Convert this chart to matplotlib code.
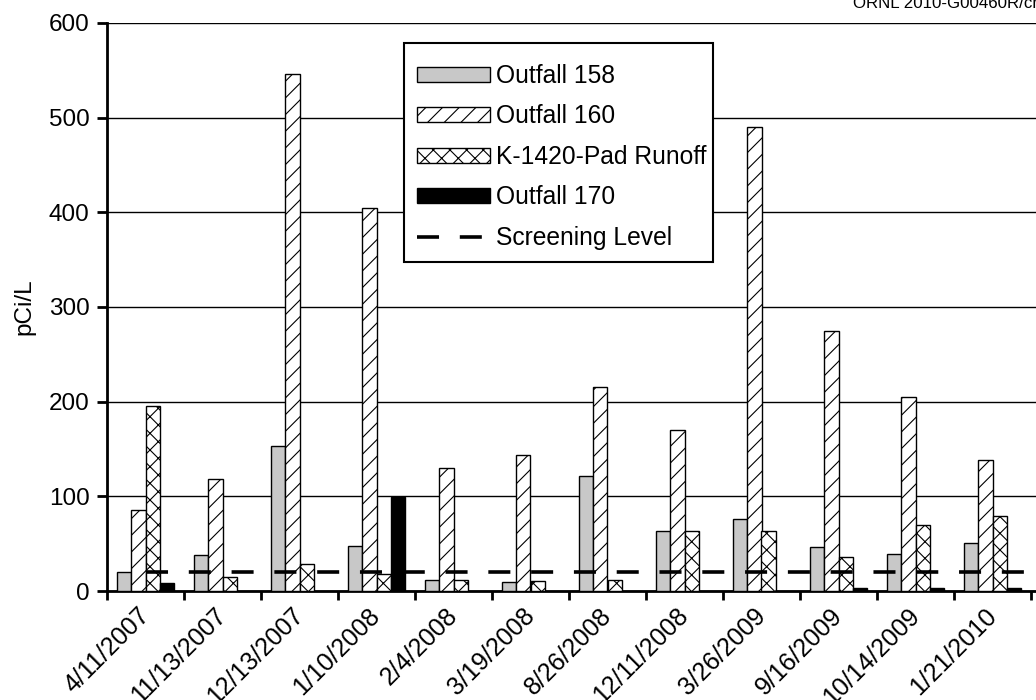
import numpy as np
import matplotlib
matplotlib.use("Agg")
import matplotlib.pyplot as plt
from matplotlib.patches import Rectangle
from matplotlib.ticker import MultipleLocator, FixedLocator

plt.rcParams['font.family'] = ['Liberation Sans', 'DejaVu Sans']
plt.rcParams['hatch.linewidth'] = 0.8

dates = ["4/11/2007", "11/13/2007", "12/13/2007", "1/10/2008", "2/4/2008",
         "3/19/2008", "8/26/2008", "12/11/2008", "3/26/2009", "9/16/2009",
         "10/14/2009", "1/21/2010"]
outfall_158 = [20, 38, 153, 48, 12, 9, 121, 63, 76, 47, 39, 51]
outfall_160 = [86, 118, 546, 405, 130, 144, 216, 170, 490, 275, 205, 138]
k1420_pad_runoff = [195, 15, 29, 18, 12, 11, 12, 63, 63, 36, 70, 79]
outfall_170 = [8, np.nan, np.nan, 99, np.nan, np.nan, np.nan, np.nan, np.nan, 3, 3, 3]
screening_level = 20

W, H = 1036, 700
fig = plt.figure(figsize=(W / 100, H / 100), dpi=100)

px = 77.0  # pixels per category
x_max = 11.6
ax_w_px = (x_max + 0.5) * px
ax_h_px = 591 - 23
ax = fig.add_axes([107 / W, 1 - 591 / H, ax_w_px / W, ax_h_px / H])

x = np.arange(len(dates))
bw = 0.185
offs = np.array([-1.5, -0.5, 0.5, 1.5]) * bw

b1 = ax.bar(x + offs[0], outfall_158, bw, color="#c8c8c8", edgecolor="black",
            linewidth=1.0, label="Outfall 158", zorder=3)
b2 = ax.bar(x + offs[1], outfall_160, bw, color="white", edgecolor="black",
            linewidth=1.0, hatch="//", label="Outfall 160", zorder=3)
b3 = ax.bar(x + offs[2], k1420_pad_runoff, bw, color="white", edgecolor="black",
            linewidth=1.0, hatch="xx", label="K-1420-Pad Runoff", zorder=3)
b4 = ax.bar(x + offs[3], outfall_170, bw, color="black", edgecolor="black",
            linewidth=1.0, label="Outfall 170", zorder=3)

sl_x = np.arange(len(dates) + 1)
sl, = ax.plot(sl_x, [screening_level] * len(sl_x), color="black", linewidth=2.6,
              dashes=(6.1, 5.75), label="Screening Level", zorder=4)

ax.set_xlim(-0.5, x_max)
ax.set_ylim(0, 600)

ax.yaxis.set_major_locator(MultipleLocator(100))
ax.grid(axis="y", color="black", linewidth=1.0, zorder=0)
ax.set_axisbelow(True)

for s in ("top", "right"):
    ax.spines[s].set_visible(False)
ax.spines["left"].set_linewidth(2.0)
ax.spines["bottom"].set_linewidth(2.0)

ax.set_xticks(x)
ax.set_xticklabels(dates, rotation=45, ha="right", va="center",
                   rotation_mode="anchor", fontsize=18)
ax.xaxis.set_minor_locator(FixedLocator(np.arange(-0.5, len(dates), 1.0)))
ax.tick_params(axis="x", which="major", length=0, pad=15)
ax.tick_params(axis="x", which="minor", length=6.5, width=2.0, direction="out")
ax.tick_params(axis="y", length=7, width=2.0, direction="out", labelsize=17.5, pad=5.5)

ax.set_ylabel("pCi/L", fontsize=17.5, labelpad=10)

# legend box: white panel with black border, entries placed inside it
box = Rectangle((404 / W, 1 - 262 / H), (713 - 404) / W, (262 - 43) / H,
                transform=fig.transFigure, facecolor="white", edgecolor="black",
                linewidth=1.5, zorder=4.5, clip_on=False)
ax.add_artist(box)

leg = ax.legend([b1, b2, b3, b4, sl],
                ["Outfall 158", "Outfall 160", "K-1420-Pad Runoff", "Outfall 170", "Screening Level"],
                loc="upper left",
                bbox_to_anchor=((417 - 107) / ax_w_px, 1 - (64 - 23) / ax_h_px),
                fontsize=17.7, frameon=False,
                handlelength=2.95, handleheight=0.55, labelspacing=0.67,
                borderpad=0, handletextpad=0.25, borderaxespad=0)
leg.set_zorder(5)

fig.text(853 / W, 1 - 8 / H, "ORNL 2010-G00460R/ch", fontsize=12.2, ha="left", va="baseline")

fig.savefig("out.png", dpi=100)
